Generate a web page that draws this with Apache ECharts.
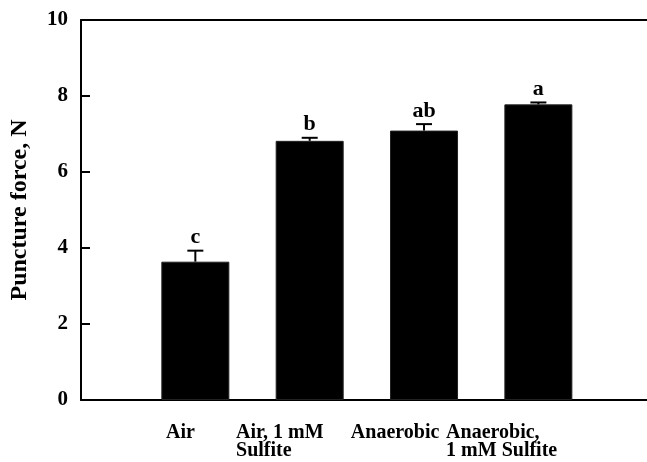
<!DOCTYPE html>
<html><head><meta charset="utf-8">
<script src="https://cdn.jsdelivr.net/npm/echarts@6/dist/echarts.min.js"></script>
<style>html,body{margin:0;padding:0;background:#fff}#c{width:647px;height:462px}</style>
</head><body><div id="c"></div>
<script>
// ---- data ----
const categories = ['Air', 'Air, 1 mM\nSulfite', 'Anaerobic', 'Anaerobic,\n1 mM Sulfite'];
const positions = [1, 2, 3, 4];
const means = [3.64, 6.82, 7.09, 7.78];
const errors = [0.29, 0.08, 0.17, 0.05];
const letters = ['c', 'b', 'ab', 'a'];
const yTicks = [0, 2, 4, 6, 8, 10];
const yTitle = 'Puncture force, N';

// ---- chart ----
const FONT = '"Liberation Serif", "Times New Roman", serif';
const labelAnchors = [0.744, 1.356, 2.36, 3.193];
const chart = echarts.init(document.getElementById('c'), null, {renderer: 'canvas'});
const barData = positions.map((p, i) => [p, means[i]]);
const errData = positions.map((p, i) => [p, means[i], errors[i], i]);
chart.setOption({
  animation: false,
  backgroundColor: '#fff',
  grid: {left: 81, right: 0, top: 20, bottom: 62},
  xAxis: [{
    type: 'value', min: 0, max: 4.95, interval: 1, position: 'bottom',
    axisLine: {show: true, lineStyle: {color: '#000', width: 2}},
    axisTick: {show: false},
    splitLine: {show: false},
    axisLabel: {
      show: true, customValues: labelAnchors, align: 'left', margin: 24,
      fontFamily: FONT, fontWeight: 'bold', fontSize: 20, lineHeight: 18, color: '#000',
      formatter: function (v) {
        const i = labelAnchors.indexOf(v);
        return i >= 0 ? categories[i] : '';
      }
    }
  }, {
    type: 'value', min: 0, max: 4.95, position: 'top',
    axisLine: {show: true, onZero: false, lineStyle: {color: '#000', width: 2}},
    axisTick: {show: false}, axisLabel: {show: false}, splitLine: {show: false}
  }],
  yAxis: {
    type: 'value', min: yTicks[0], max: yTicks[yTicks.length - 1], interval: 2,
    axisLine: {show: true, lineStyle: {color: '#000', width: 2}},
    axisTick: {show: true, inside: true, length: 9, lineStyle: {color: '#000', width: 2}},
    splitLine: {show: false},
    axisLabel: {fontFamily: FONT, fontWeight: 'bold', fontSize: 21, color: '#000', margin: 13},
    name: yTitle, nameLocation: 'middle', nameGap: 49, nameRotate: 90,
    nameTextStyle: {fontFamily: FONT, fontWeight: 'bold', fontSize: 24, color: '#000'}
  },
  series: [{
    type: 'bar', data: barData, barWidth: 68,
    itemStyle: {color: '#000', borderColor: '#222', borderWidth: 1}
  }, {
    type: 'custom', data: errData, z: 5,
    renderItem: function (params, api) {
      const x = api.value(0), y = api.value(1), e = api.value(2), idx = api.value(3);
      const base = api.coord([x, y]);
      const top = api.coord([x, y + e]);
      return {
        type: 'group',
        children: [
          {type: 'line', shape: {x1: base[0], y1: base[1], x2: top[0], y2: top[1]}, style: {stroke: '#000', lineWidth: 2}},
          {type: 'line', shape: {x1: top[0] - 8, y1: top[1], x2: top[0] + 8, y2: top[1]}, style: {stroke: '#000', lineWidth: 2}},
          {type: 'text', style: {text: letters[idx], x: top[0], y: top[1] - 2, align: 'center', verticalAlign: 'bottom',
            font: 'bold 22px ' + FONT, fill: '#000'}}
        ]
      };
    }
  }]
});
</script></body></html>
